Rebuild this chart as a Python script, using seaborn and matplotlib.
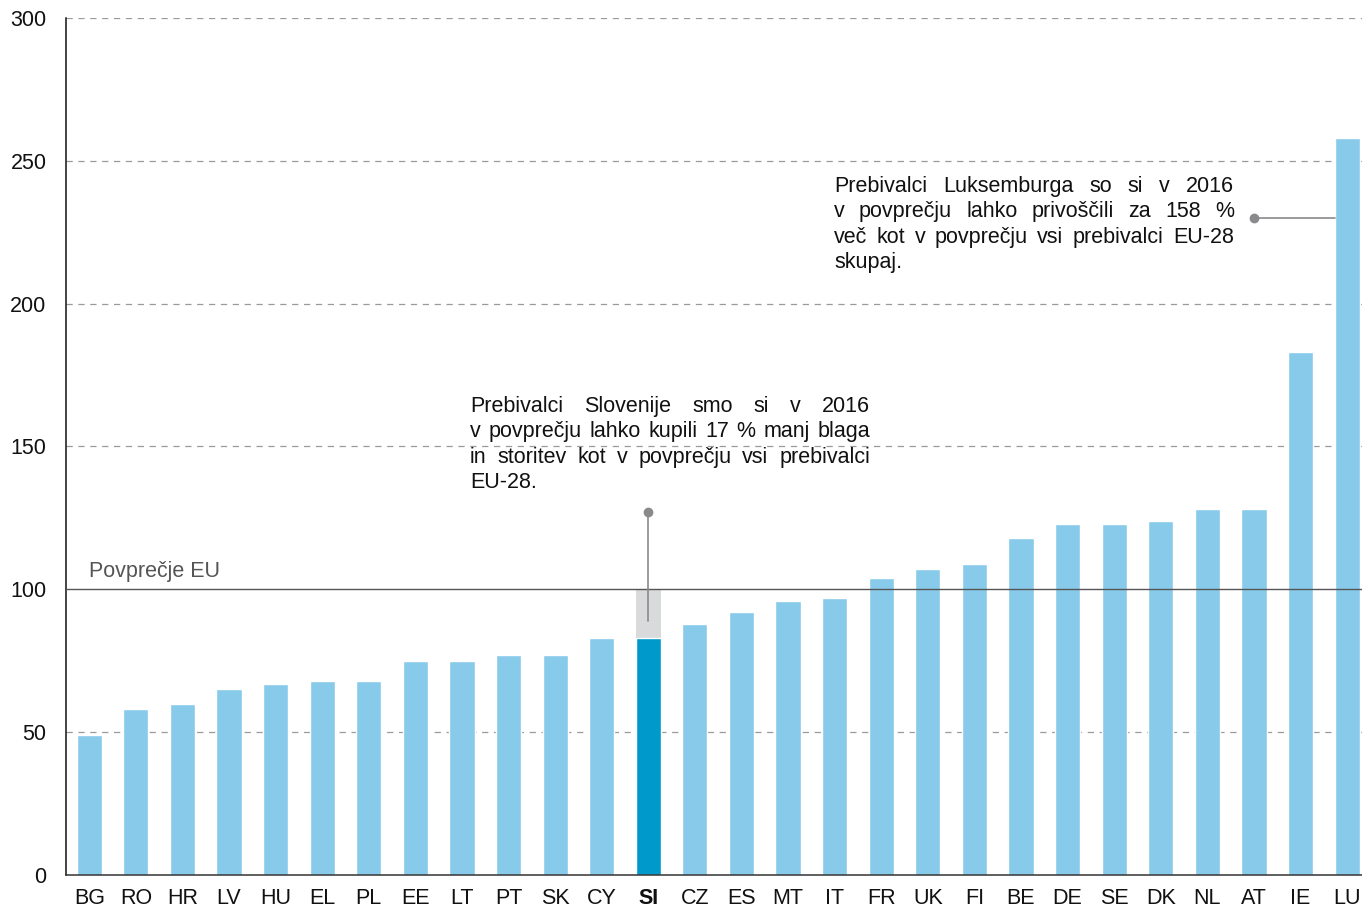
import matplotlib
matplotlib.use("Agg")
import matplotlib.pyplot as plt
from matplotlib.transforms import IdentityTransform
import pandas as pd
import seaborn as sns

# ------------------------------------------------------------
# Data: actual individual consumption per capita (EU-28 = 100), 2016
# ------------------------------------------------------------
countries = ["BG", "RO", "HR", "LV", "HU", "EL", "PL", "EE", "LT", "PT",
             "SK", "CY", "SI", "CZ", "ES", "MT", "IT", "FR", "UK", "FI",
             "BE", "DE", "SE", "DK", "NL", "AT", "IE", "LU"]
values = [49, 58, 60, 65, 67, 68, 68, 75, 75, 77,
          77, 83, 83, 88, 92, 96, 97, 104, 107, 109,
          118, 123, 123, 124, 128, 128, 183, 258]
EU_AVG = 100
highlight = "SI"
yticks = [0, 50, 100, 150, 200, 250, 300]

si_note = ["Prebivalci Slovenije smo si v 2016",
           "v povprečju lahko kupili 17 % manj blaga",
           "in storitev kot v povprečju vsi prebivalci",
           "EU-28."]
lu_note = ["Prebivalci Luksemburga so si v 2016",
           "v povprečju lahko privoščili za 158 %",
           "več kot v povprečju vsi prebivalci EU-28",
           "skupaj."]
avg_label = "Povprečje EU"

LIGHT = "#87CAEA"
DARK = "#0099CC"
GREY_BG = "#D9DADB"
POINTER = "#8A8A8C"
FS = 15.5

sns.set_theme(style="white")
plt.rcParams["font.family"] = ["Liberation Sans", "DejaVu Sans"]

W, H = 1362, 908
fig = plt.figure(figsize=(W / 100, H / 100), dpi=100)
ax = fig.add_axes([66 / W, 33 / H, 1 - 66 / W, 857 / H])

df = pd.DataFrame({"country": countries, "value": values})
colors = [DARK if c == highlight else LIGHT for c in countries]
sns.barplot(data=df, x="country", y="value", hue="country", palette=colors,
            legend=False, width=0.54, saturation=1, ax=ax, zorder=2)

# grey remainder up to the EU average behind the highlighted bar
si = countries.index(highlight)
ax.bar(si, EU_AVG, width=0.54, color=GREY_BG, zorder=1, linewidth=0)

# gridlines (dashed) and EU average line (solid)
for y in yticks:
    if y not in (0, EU_AVG):
        ax.axhline(y, color="#9A9A9A", lw=0.9, ls=(0, (5, 4.5)), zorder=0)
ax.axhline(EU_AVG, color="#555555", lw=1.0, zorder=3)
ax.text(0.0, EU_AVG + 4.2, avg_label, fontsize=15.5, color="#555555",
        ha="left", va="baseline", zorder=4)

ax.set_xlim(-0.5, 27.32)
ax.set_ylim(0, 300)
ax.set_yticks(yticks)
ax.set_xlabel("")
ax.set_ylabel("")
ax.tick_params(axis="both", length=0, labelsize=FS, colors="#111111")
ax.tick_params(axis="x", pad=9)
ax.tick_params(axis="y", pad=14)
for lbl in ax.get_xticklabels():
    if lbl.get_text() == highlight:
        lbl.set_fontweight("bold")

for side in ("top", "right"):
    ax.spines[side].set_visible(False)
ax.spines["left"].set_color("#111111")
ax.spines["left"].set_linewidth(1.1)
ax.spines["bottom"].set_color("#333333")
ax.spines["bottom"].set_linewidth(1.1)

# pointers
ax.plot([si, si], [127, 89], color=POINTER, lw=1.2, zorder=5)
ax.plot([si], [127], "o", ms=6, color=POINTER, zorder=5)
lu = countries.index("LU")
ax.plot([lu - 2, lu - 0.27], [230, 230], color=POINTER, lw=1.2, zorder=5)
ax.plot([lu - 2], [230], "o", ms=6, color=POINTER, zorder=5)


def justified(lines, x0, x1, y_top, step, size):
    """Draw a block of justified text in figure pixel coordinates."""
    r = fig.canvas.get_renderer()
    space = size * 0.278 * fig.dpi / 72
    for i, line in enumerate(lines):
        words = line.split()
        y = H - (y_top + i * step)
        arts = [fig.text(0, 0, w, fontsize=size, color="#111111",
                         transform=IdentityTransform(), va="baseline")
                for w in words]
        widths = [a.get_window_extent(r).width for a in arts]
        last = i == len(lines) - 1
        if last or len(words) == 1:
            gap = space
        else:
            gap = (x1 - x0 - sum(widths)) / (len(words) - 1)
        x = x0
        for a, w in zip(arts, widths):
            a.set_position((x, y))
            x += w + gap


justified(si_note, 470, 870, 412, 25.4, FS)
justified(lu_note, 834, 1234, 192, 25.4, FS)

fig.savefig("out.png", dpi=100)
